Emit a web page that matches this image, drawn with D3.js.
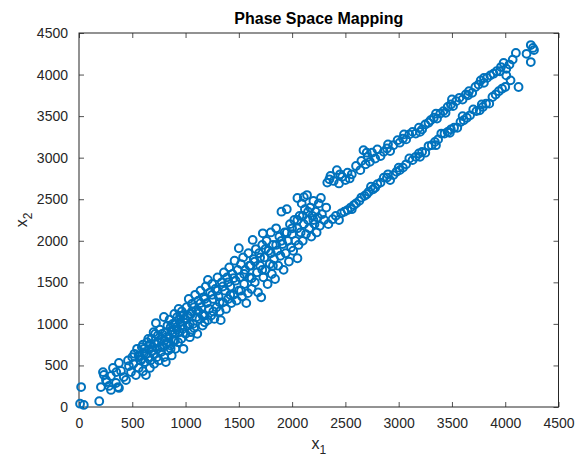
<!DOCTYPE html>
<html lang="en">
<head>
  <meta charset="UTF-8">
  <title>Phase Space Mapping</title>
  <script src="https://d3js.org/d3.v7.min.js"></script>
  <style>
    body { margin: 0; background: #fff; }
    svg { display: block; font-family: "Liberation Sans", Arial, sans-serif; }
  </style>
</head>
<body>
<script>
  // points as [x1, x2], grouped by region of the plot
  const tailPts = [
    [10,40],[20,240],[45,25],[190,70],[206,240],[225,420],[234,385],[253,325],[281,253],[300,205],
    [300,373],[319,470],[347,289],[366,240],[375,229],[375,530],[394,433],[441,325],[469,493],[488,421],
    [420,360],[460,560],[500,600],[350,420],[260,300]
  ];
  const bandLow = [
    [510,520],[520,640],[534,385],[545,700],[560,470],[570,610],[580,560],[590,720],[600,430],[610,650],
    [620,540],[628,385],[640,780],[650,600],[655,690],[665,470],[670,560],[680,820],[690,720],[700,640],
    [705,520],[715,880],[722,1010],[730,600],[735,700],[745,780],[750,560],[760,930],[770,660],[775,820],
    [785,720],[797,1083],[800,600],[810,900],[815,540],[820,760],[830,980],[835,680],[845,840],[850,1050],
    [860,740],[865,920],[870,620],[880,1000],[885,800],[895,1120],[900,880],[905,700],[915,960],[920,1080],
    [930,780],[935,1180],[945,900],[950,1020],[960,820],[965,1150],[975,940],[980,700],[990,1060],[1000,880]
  ];
  const bandMid = [
    [1010,1200],[1020,980],[1030,1300],[1040,840],[1050,1120],[1060,1240],[1070,1000],[1080,950],[1090,1350],[1100,1160],
    [1110,880],[1120,1280],[1130,1060],[1140,1400],[1150,1200],[1160,980],[1170,1320],[1180,1100],[1190,1450],[1200,1250],
    [1210,1045],[1210,1530],[1220,1180],[1230,1380],[1240,1100],[1250,1480],[1260,1300],[1270,1060],[1280,1420],[1290,1200],
    [1300,1560],[1310,1330],[1320,1150],[1330,1045],[1340,1500],[1350,1260],[1360,1620],[1370,1400],[1380,1180],[1390,1560],
    [1400,1300],[1410,1680],[1420,1450],[1430,1250],[1440,1600],[1450,1350],[1460,1760],[1470,1520],[1480,1280],[1490,1650],
    [1500,1910],[1500,1400]
  ];
  const bandHigh = [
    [1510,1560],[1520,1720],[1530,1330],[1540,1800],[1550,1480],[1560,1650],[1570,1250],[1585,1370],[1590,1850],[1600,1560],
    [1610,1700],[1620,1420],[1630,2010],[1640,1780],[1650,1500],[1660,1900],[1670,1620],[1680,1380],[1690,1850],[1700,1700],
    [1710,1320],[1720,1950],[1725,2090],[1730,1560],[1740,1800],[1750,1650],[1760,2000],[1770,1480],[1780,1880],[1790,1720],
    [1800,2100],[1810,1600],[1820,1950],[1830,1780],[1840,1540],[1850,2150],[1860,1880],[1870,1700],[1880,2050],[1890,1820],
    [1900,2350],[1910,1960],[1920,1650],[1930,2100],[1940,1850],[1950,2380],[1960,2000],[1970,1750],[1980,2200],[1990,1920],
    [2000,2080],[2010,1880],[2020,2250],[2030,2000],[2050,2515],[2050,2150],[2060,1950],[2070,2300],[2080,2100],[2090,2450],
    [2100,2000],[2110,2200],[2120,2380],[2130,2080],[2140,2550],[2150,2250],[2160,2150],[2170,2400],[2180,2050],[2190,2300],
    [2200,2480],[2210,2200],[2220,2350],[2230,2100],[2240,2280],[2250,2450],[2260,2180],[2280,2320],[2300,2250],[2320,2400],
    [2340,2200],[2050,1790],[2270,2515],[2110,2525]
  ];
  const bandExtra = [
    [560,620],[590,580],[610,700],[630,640],[660,750],[690,680],[710,760],[740,860],[760,720],[780,880],
    [800,800],[820,840],[840,780],[860,960],[880,900],[900,1000],[920,930],[940,1050],[960,980],[980,1100],
    [1000,1050],[1020,1100],[1040,1000],[1060,1150],[1080,1200],[1100,1080],[1120,1150],[1140,1250],[1160,1100],[1180,1300],
    [1250,1350],[1300,1400],[1350,1450],[1400,1500],[1450,1550],[1550,1600],[1600,1700],[1650,1750],[1700,1800],[1750,1900],
    [1800,1850],[1850,1950],[1900,2000],[1950,2100],[2000,2150],[2050,2250],[2100,2300],[2150,2350],[2200,2250],[860,700],
    [900,800],[950,1100],[700,900],[650,820],[600,750],[1050,900],[1180,1020],[1260,1150],[1320,1260],[1420,1350],
    [1520,1400],[1620,1550],[1720,1650],[1820,1700]
  ];
  const upperBranch = [
    [2330,2700],[2360,2780],[2390,2720],[2420,2850],[2440,2690],[2470,2770],[2500,2730],[2520,2820],[2540,2750],[2560,2800],
    [2640,2850],[2650,2960],[2670,3090],[2690,2920],[2710,3010],[2730,2950],[2750,3060],[2780,2990],[2800,3100],[2830,3020],
    [2860,3070],[2890,3110],[2920,3080],[2950,3150],[2990,3210],[3010,3180],[3040,3230],[3070,3220],[3100,3280],[3130,3310],
    [3160,3290],[3190,3360],[3220,3340],[3250,3400],[3280,3420],[3300,3450],[3330,3480],[3360,3470],[3390,3530],[3420,3560],
    [3440,3540],[3460,3610],[3490,3640],[3510,3620],[3540,3680],[3570,3720],[3600,3700],[3630,3760],[3660,3800],[3690,3780],
    [3720,3850],[3750,3880],[3770,3930],[3800,3900],[3830,3960],[3860,3990],[3890,4010],[3920,4040],[3960,4090],[3985,4140],
    [4010,4070],[4040,4120],[4070,4180],[4100,4260],[4200,4250],[4240,4355],[4270,4295],[4240,4150],[4260,4320],[4010,3990],
    [2700,3060],[2900,3160],[3050,3280],[3200,3310],[3350,3530],[3500,3700],[3650,3750],[3800,3960],[3950,4040],[2600,2900],
    [2450,2800],[2350,2740]
  ];
  const lowerBranch = [
    [2380,2260],[2410,2300],[2440,2250],[2460,2330],[2490,2350],[2520,2370],[2550,2400],[2580,2430],[2600,2450],[2630,2480],
    [2650,2520],[2680,2540],[2700,2560],[2720,2590],[2740,2650],[2760,2620],[2780,2640],[2800,2680],[2830,2700],[2860,2760],
    [2890,2760],[2920,2730],[2950,2790],[2980,2830],[3010,2850],[3040,2880],[3070,2920],[3100,2990],[3130,2970],[3160,3010],
    [3190,3050],[3220,3070],[3250,3060],[3280,3140],[3310,3150],[3340,3190],[3370,3220],[3400,3290],[3430,3290],[3460,3310],
    [3490,3340],[3520,3360],[3550,3360],[3580,3430],[3610,3450],[3640,3480],[3670,3510],[3700,3580],[3730,3560],[3760,3570],
    [3790,3610],[3820,3650],[3850,3650],[3880,3730],[3910,3760],[3940,3800],[3970,3830],[4000,3850],[4050,3930],[4125,3850],
    [3000,2880],[3350,3150],[3600,3500],[3780,3640],[2560,2380],[2900,2800],[3200,3010],[3480,3300]
  ];
  const xTicks = [0,500,1000,1500,2000,2500,3000,3500,4000,4500];
  const yTicks = [0,500,1000,1500,2000,2500,3000,3500,4000,4500];

  const allPts = [].concat(tailPts, bandLow, bandMid, bandHigh, bandExtra, upperBranch, lowerBranch);

  const W = 587, H = 457;
  const m = { left: 79, right: 558.5, top: 33, bottom: 407 };
  const ink = "#262626";

  const svg = d3.select("body").append("svg")
      .attr("width", W)
      .attr("height", H);

  const x = d3.scaleLinear().domain([0, 4500]).range([m.left, m.right]);
  const y = d3.scaleLinear().domain([0, 4500]).range([m.bottom, m.top]);

  // axes, ticks pointing inward like MATLAB
  const gx = svg.append("g")
      .attr("transform", `translate(0,${m.bottom})`)
      .call(d3.axisBottom(x).tickValues(xTicks).tickFormat(d3.format("d")).tickSize(-5).tickPadding(11));
  const gxTop = svg.append("g")
      .attr("transform", `translate(0,${m.top})`)
      .call(d3.axisTop(x).tickValues(xTicks).tickFormat("").tickSize(-5));
  const gy = svg.append("g")
      .attr("transform", `translate(${m.left},0)`)
      .call(d3.axisLeft(y).tickValues(yTicks).tickFormat(d3.format("d")).tickSize(-5).tickPadding(11));
  const gyRight = svg.append("g")
      .attr("transform", `translate(${m.right},0)`)
      .call(d3.axisRight(y).tickValues(yTicks).tickFormat("").tickSize(-5));

  [gx, gxTop, gy, gyRight].forEach(g => {
    g.select(".domain").remove();
    g.selectAll("line").attr("stroke", ink).attr("stroke-width", 0.8);
    g.selectAll("text")
      .attr("fill", ink)
      .style("font-size", "14px")
      .style("font-family", "'Liberation Sans', Arial, sans-serif");
  });

  // box
  svg.append("rect")
      .attr("x", m.left)
      .attr("y", m.top)
      .attr("width", m.right - m.left)
      .attr("height", m.bottom - m.top)
      .attr("fill", "none")
      .attr("stroke", ink)
      .attr("stroke-width", 1);

  // markers
  svg.append("g").selectAll("circle")
      .data(allPts)
      .enter()
      .append("circle")
      .attr("cx", d => x(d[0]))
      .attr("cy", d => y(d[1]))
      .attr("r", 3.9)
      .attr("fill", "none")
      .attr("stroke", "#0072BD")
      .attr("stroke-width", 2);

  // title
  svg.append("text")
      .attr("x", (m.left + m.right) / 2)
      .attr("y", 24)
      .attr("text-anchor", "middle")
      .attr("fill", "#000")
      .style("font-size", "16px")
      .style("font-weight", "bold")
      .text("Phase Space Mapping");

  // x label
  const xl = svg.append("text")
      .attr("x", (m.left + m.right) / 2)
      .attr("y", 449)
      .attr("text-anchor", "middle")
      .attr("fill", ink)
      .style("font-size", "16px");
  xl.append("tspan").text("x");
  xl.append("tspan").attr("dy", 5).style("font-size", "12px").text("1");

  // y label
  const yl = svg.append("text")
      .attr("transform", `translate(27,${(m.top + m.bottom) / 2}) rotate(-90)`)
      .attr("text-anchor", "middle")
      .attr("fill", ink)
      .style("font-size", "16px");
  yl.append("tspan").text("x");
  yl.append("tspan").attr("dy", 5).style("font-size", "12px").text("2");
</script>
</body>
</html>
